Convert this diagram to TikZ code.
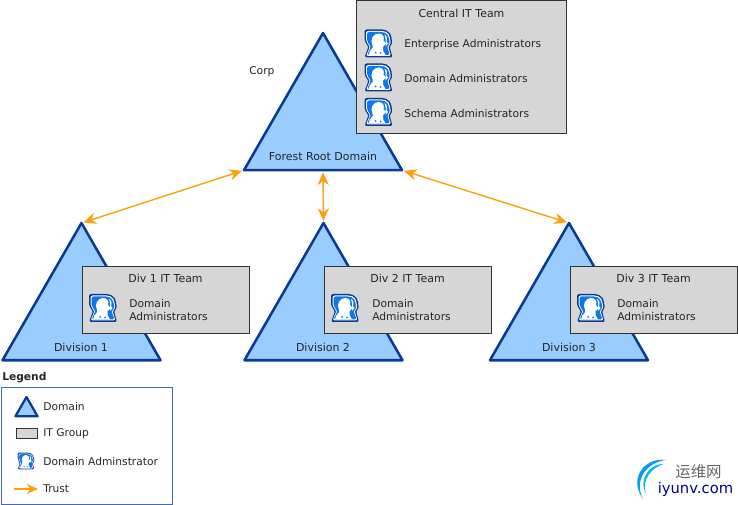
\documentclass[tikz,border=0pt]{standalone}
\usepackage{fontspec}
\setmainfont{DejaVu Sans}
\newfontfamily\cjk{Noto Sans CJK SC}
\usetikzlibrary{shapes.geometric,arrows.meta}
\definecolor{domblue}{HTML}{99CCFF}
\definecolor{domline}{HTML}{0B3A94}
\definecolor{grpgray}{HTML}{D6D6D6}
\definecolor{trustor}{HTML}{FF9E0F}
\definecolor{iconblue}{HTML}{0F78E8}
\definecolor{legline}{HTML}{3F68C0}
\tikzset{
  domain/.style={isosceles triangle, isosceles triangle apex angle=60, isosceles triangle stretches,
    shape border rotate=90, draw=domline, fill=domblue, line width=1.8pt, line join=round,
    inner sep=0pt, outer sep=0pt, anchor=apex, minimum width=#1*3.95cm, minimum height=#1*3.43cm},
  domain/.default=1,
  itgroup/.style={rectangle, draw=black!80, fill=grpgray, line width=0.7pt, inner sep=0pt, outer sep=0pt},
  txt/.style={font=\fontsize{7.6}{9.4}\selectfont, text=black!85, inner sep=0pt, anchor=west},
  ttl/.style={font=\fontsize{7.8}{9.4}\selectfont, text=black!85, inner sep=0pt},
  trust/.style={draw=trustor, line width=1pt, {Stealth[length=9pt,width=8pt]}-{Stealth[length=9pt,width=8pt]}},
  admin/.pic={
    \fill[domline, rounded corners=1.5pt]
      (-14,-14) -- (6,-14) -- (10,-12) -- (13,-8) -- (13,-3) -- (14,0) -- (11,3) -- (14,14) -- (-14,14)
      -- (-10,3) -- (-14,-2) -- cycle;
    \fill[white, rounded corners=1.5pt]
      (-12.5,-12.5) -- (5.5,-12.5) -- (9,-11) -- (11.5,-7.5) -- (11.5,-3) -- (12.5,0) -- (9.5,3) -- (12.5,12.5) -- (-12.5,12.5)
      -- (-8.5,3) -- (-12.5,-2) -- cycle;
    \fill[iconblue, rounded corners=1.5pt]
      (-11.5,-11.5) -- (5,-11.5) -- (8,-10) -- (10.5,-7) -- (10.5,-3) -- (11.5,0) -- (8.5,3) -- (11.5,11.5) -- (-11.5,11.5)
      -- (-7.5,3) -- (-11.5,-2) -- cycle;
    \fill[white] (-10,11.5) .. controls (-9,5) and (-4,5) .. (-6,2)
      .. controls (-9,-4) and (-5,-10) .. (0,-10) .. controls (5,-10) and (6,-6) .. (5,-3)
      -- (7.5,0) -- (4.5,3) -- (4.5,7) -- (7,11.5) -- cycle;
    \fill[white] (6,-9) .. controls (9,-7) and (9,-4) .. (8,-2) -- (9.5,0) -- (7,3) -- (7,-1) -- (7,-5) -- cycle;
    \fill[iconblue] (-3,9) circle (1) (2,9.5) circle (1);
  }
}
\begin{document}
\begin{tikzpicture}[x=0.025cm,y=-0.025cm]
  \useasboundingbox (0,0) rectangle (738,505);

  % domains
  \node[domain] at (323,33) (corp) {};
  \node[domain] at (81.5,223) (div1) {};
  \node[domain] at (323.5,223) (div2) {};
  \node[domain] at (569,223) (div3) {};

  \node[txt] at (249,71.5) (corpname) {Corp};
  \node[ttl] at (323,156.5) (rootname) {Forest Root Domain};
  \node[ttl] at (81,347.5) (div1name) {Division 1};
  \node[ttl] at (323,347.5) (div2name) {Division 2};
  \node[ttl] at (569,347.5) (div3name) {Division 3};

  % trusts
  \draw[trust, shorten <=1.5pt, shorten >=1.5pt] (corp.left corner) -- (div1.apex);
  \draw[trust, shorten <=1.5pt, shorten >=1.5pt] (corp.lower side) -- (div2.apex);
  \draw[trust, shorten <=1.5pt, shorten >=1.5pt] (corp.right corner) -- (div3.apex);

  % central team
  \node[itgroup, minimum width=5.225cm, minimum height=3.3cm] at (461.5,67) (central) {};
  \node[ttl] at (461.5,13) (centralname) {Central IT Team};
  \pic at (378.5,43.5) {admin};
  \pic at (378.5,77.5) {admin};
  \pic at (378.5,112) {admin};
  \node[txt] at (404,45) (entadm) {Enterprise Administrators};
  \node[txt] at (404,79) (domadm) {Domain Administrators};
  \node[txt] at (404,113.5) (schadm) {Schema Administrators};

  % division teams
  \node[itgroup, minimum width=4.15cm, minimum height=1.65cm] at (166,300) (team1) {};
  \node[ttl] at (165.5,278.5) (team1name) {Div 1 IT Team};
  \pic at (103,308) {admin};
  \node[txt, align=left] at (129,310) (team1adm) {Domain\\Administrators};

  \node[itgroup, minimum width=4.15cm, minimum height=1.65cm] at (408,300) (team2) {};
  \node[ttl] at (407.5,278.5) (team2name) {Div 2 IT Team};
  \pic at (345,308) {admin};
  \node[txt, align=left] at (372,310) (team2adm) {Domain\\Administrators};

  \node[itgroup, minimum width=4.15cm, minimum height=1.65cm] at (654,300) (team3) {};
  \node[ttl] at (653.5,278.5) (team3name) {Div 3 IT Team};
  \pic at (591,308) {admin};
  \node[txt, align=left] at (617,310) (team3adm) {Domain\\Administrators};

  % legend
  \node[txt, font=\fontsize{7.6}{9.4}\selectfont\bfseries] at (2,378) (legendname) {Legend};
  \node[rectangle, draw=legline, line width=0.7pt, minimum width=4.25cm, minimum height=2.9cm, inner sep=0pt] at (87,446) (legend) {};
  \node[domain=0.14, line width=1.6pt] at (26.5,397) (legdom) {};
  \node[itgroup, minimum width=0.525cm, minimum height=0.25cm] at (26.5,433.5) (leggrp) {};
  \pic[scale=0.6] at (26,461) {admin};
  \coordinate (legfrom) at (14,489);
  \coordinate (legto) at (38,489);
  \draw[draw=trustor, line width=1pt, -{Stealth[length=8pt,width=7pt]}] (legfrom) -- (legto);
  \node[txt] at (43,406.5) (legdomt) {Domain};
  \node[txt] at (43,434) (leggrpt) {IT Group};
  \node[txt] at (43,461.5) (legadmt) {Domain Adminstrator};
  \node[txt] at (43,489) (legtrut) {Trust};

  % watermark
  \fill[iconblue!75!cyan] (666,460) .. controls (645,457) and (628,478) .. (643,499)
     .. controls (633,479) and (648,462) .. (666,460) -- cycle;
  \fill[iconblue!55!cyan] (664,464) .. controls (650,463) and (638,479) .. (646,494)
     .. controls (641,480) and (652,467) .. (664,464) -- cycle;
  \node[txt, font=\cjk\fontsize{11}{12}\selectfont, text=black!60] at (675,472) (wmcn) {运维网};
  \node[txt, font=\fontsize{10.5}{12}\selectfont, text=blue!60!black] at (657.5,489) (wmen) {iyunv.com};
\end{tikzpicture}
\end{document}
